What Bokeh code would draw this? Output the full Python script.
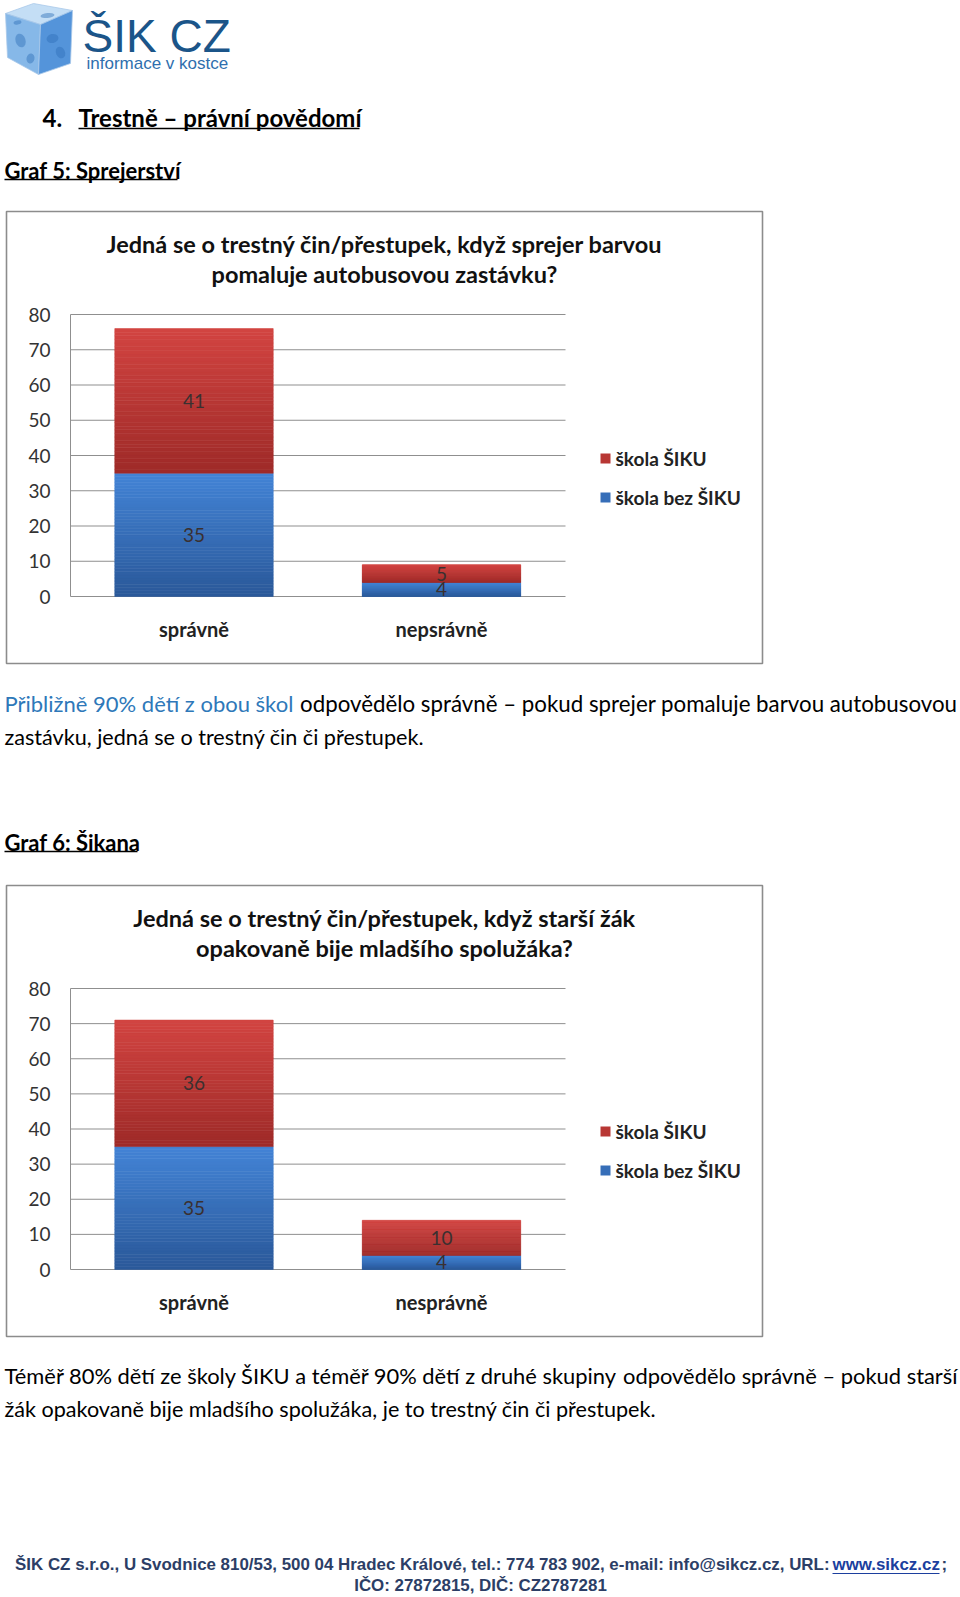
import numpy as np
from bokeh.plotting import figure
from bokeh.models import Range1d
from bokeh.core.properties import value
from bokeh.embed import file_html
from bokeh.resources import INLINE

# ---------------- data ----------------
categories_1 = ["správně", "nepsrávně"]
skola_siku_1 = [41, 5]
skola_bez_siku_1 = [35, 4]
title_1 = ["Jedná se o trestný čin/přestupek, když sprejer barvou",
           "pomaluje autobusovou zastávku?"]

categories_2 = ["správně", "nesprávně"]
skola_siku_2 = [36, 10]
skola_bez_siku_2 = [35, 4]
title_2 = ["Jedná se o trestný čin/přestupek, když starší žák",
           "opakovaně bije mladšího spolužáka?"]

y_ticks = [0, 10, 20, 30, 40, 50, 60, 70, 80]
y_tick_labels = ["0", "10", "20", "30", "40", "50", "60", "70", "80"]
series_names = ["škola ŠIKU", "škola bez ŠIKU"]

# ---------------- page canvas ----------------
W, H = 960, 1597
X0, Y0 = 0, 0
BODY = value("Lato")
ARIAL = value("Liberation Sans")
NARROW = value("Liberation Sans Narrow, Liberation Sans, sans-serif")

p = figure(width=W, height=H, x_range=Range1d(X0, X0 + W), y_range=Range1d(Y0 + H, Y0),
           output_backend="svg", toolbar_location=None, min_border=0,
           x_axis_location=None, y_axis_location=None)
p.grid.visible = False
p.outline_line_color = None
p.background_fill_color = "white"
p.border_fill_color = "white"

# ---------------- logo ----------------
p.patches(xs=[[5, 33, 72, 40], [5, 40, 38, 7], [40, 72, 70, 38]],
          ys=[[13, 3, 10, 24], [13, 24, 74, 57], [24, 10, 63, 74]],
          fill_color=["#c4def5", "#86b8e8", "#5494da"], line_color="#a9c9ea", line_width=0.8)
p.ellipse(x=[20, 30, 52, 60, 47, 17], y=[40, 58, 38, 52, 15, 22], width=[10, 8, 12, 9, 14, 8],
          height=[14, 10, 9, 12, 5, 4], angle=[0.3, -0.2, 0.2, 0.4, 0.1, 0.2],
          fill_color="#2f6fb9", fill_alpha=0.45, line_color=None)
p.text(x=[82], y=[35], text=["ŠIK CZ"], text_font=ARIAL, text_font_size="46px",
       text_color="#1b5589", text_baseline="middle", text_align="left")
p.text(x=[86], y=[63], text=["informace v kostce"], text_font=ARIAL, text_font_size="17px",
       text_color="#2f6fae", text_baseline="middle", text_align="left")

# ---------------- headings ----------------
p.text(x=[42], y=[117], text=["4."], text_font=BODY, text_font_style="bold",
       text_font_size="24px", text_color="black", text_baseline="middle")
p.text(x=[78], y=[117], text=["Trestně – právní povědomí"], text_font=BODY, text_font_style="bold",
       text_font_size="24px", text_color="black", text_baseline="middle")
p.segment(x0=[78], x1=[359], y0=[128], y1=[128], line_color="black", line_width=1.5)

def sub_heading(txt, y, x1):
    p.text(x=[4], y=[y], text=[txt], text_font=BODY, text_font_style="bold",
           text_font_size="22px", text_color="black", text_baseline="middle")
    p.segment(x0=[4], x1=[x1], y0=[y + 9], y1=[y + 9], line_color="black", line_width=1.3)

sub_heading("Graf 5: Sprejerství", 170, 177)
sub_heading("Graf 6: Šikana", 842, 137)

# ---------------- charts ----------------
RED_TOP, RED_BOT = np.array([0xd2, 0x44, 0x41]), np.array([0x9e, 0x2a, 0x28])
BLUE_TOP, BLUE_BOT = np.array([0x43, 0x84, 0xd6]), np.array([0x2a, 0x58, 0x99])

def hexc(c):
    c = np.clip(np.round(c), 0, 255).astype(int)
    return "#%02x%02x%02x" % tuple(c)

def draw_chart(key, frame_top, zero_y, ppu, titles, cats, red, blue):
    kx, ky = key + "x", key + "y"
    c0, cw = 193.5, 247.5
    p.extra_x_ranges[kx] = Range1d((X0 - c0) / cw, (X0 + W - c0) / cw)
    p.extra_y_ranges[ky] = Range1d((zero_y - (Y0 + H)) / ppu, (zero_y - Y0) / ppu)

    # frame
    p.quad(left=[6], right=[762], top=[frame_top], bottom=[zero_y + 67],
           fill_color=None, line_color="#8c8c8c", line_width=1.6)
    # title
    p.text(x=[384, 384], y=[frame_top + 32, frame_top + 62], text=titles, text_font=BODY,
           text_font_style="bold", text_font_size="23.5px", text_color="#111111",
           text_align="center", text_baseline="middle")
    # grid + axis
    p.segment(x0=70, x1=565, y0=y_ticks, y1=y_ticks, y_range_name=ky,
              line_color="#8f8f8f", line_width=1)
    p.segment(x0=[70], x1=[70], y0=[0], y1=[y_ticks[-1]], y_range_name=ky,
              line_color="#8f8f8f", line_width=1)
    p.text(x=50, y=y_ticks, text=y_tick_labels, y_range_name=ky, text_font=BODY,
           text_font_size="19px", text_color="#333333", text_align="right",
           text_baseline="middle")

    xs = np.arange(len(cats))
    blue = np.array(blue, dtype=float)
    red = np.array(red, dtype=float)
    segs = [(np.zeros_like(blue), blue, BLUE_BOT, BLUE_TOP), (blue, blue + red, RED_BOT, RED_TOP)]
    N = 40
    for bot, top, cb, ct in segs:
        for k in range(N):
            b = bot + (top - bot) * k / N
            t = bot + (top - bot) * (k + 1) / N
            col = hexc(cb + (ct - cb) * (k + 0.5) / N)
            p.vbar(x=xs, bottom=b, top=t, width=0.64, fill_color=col, line_color=col,
                   line_width=0.6, x_range_name=kx, y_range_name=ky)
    # data labels
    p.text(x=np.concatenate([xs, xs]), y=np.concatenate([blue / 2, blue + red / 2]),
           text=[str(int(v)) for v in blue] + [str(int(v)) for v in red],
           x_range_name=kx, y_range_name=ky, text_font=BODY, text_font_size="19px",
           text_color="#3a3030", text_align="center", text_baseline="middle")
    # category labels
    p.text(x=xs, y=[zero_y + 32] * len(cats), text=cats, x_range_name=kx, text_font=BODY,
           text_font_style="bold", text_font_size="20px", text_color="#222222",
           text_align="center", text_baseline="middle")
    # legend
    ly = [zero_y - 138, zero_y - 99]
    p.rect(x=[605, 605], y=ly, width=10, height=10,
           fill_color=[hexc((RED_TOP + RED_BOT) / 2), hexc((BLUE_TOP + BLUE_BOT) / 2)],
           line_color=None)
    p.text(x=[615, 615], y=ly, text=series_names, text_font=BODY, text_font_style="bold",
           text_font_size="19px", text_color="#222222", text_align="left",
           text_baseline="middle")

draw_chart("c1", 211, 596, 282 / 80, title_1, categories_1, skola_siku_1, skola_bez_siku_1)
draw_chart("c2", 885, 1269, 281 / 80, title_2, categories_2, skola_siku_2, skola_bez_siku_2)

# ---------------- paragraphs ----------------
def chunk(x, y, txt, color="black", align="left", size="21.6px"):
    p.text(x=[x], y=[y], text=[txt], text_font=BODY, text_font_size=size,
           text_color=color, text_align=align, text_baseline="middle")

BLUE_TXT = "#2e78b9"
# first paragraph: justified first line (left part flush left, right part flush right)
chunk(4, 703, "Přibližně 90% dětí z obou škol", BLUE_TXT, size="22px")
chunk(957, 703, "odpovědělo správně – pokud sprejer pomaluje barvou autobusovou",
      align="right", size="22.3px")
chunk(4, 736, "zastávku, jedná se o trestný čin či přestupek.")

# second paragraph
chunk(4, 1375, "Téměř 80% dětí ze školy ŠIKU a téměř 90% dětí z druhé skupiny", size="21.9px")
chunk(957, 1375, "odpovědělo správně – pokud starší", align="right", size="21.9px")
chunk(4, 1408, "žák opakovaně bije mladšího spolužáka, je to trestný čin či přestupek.")

# ---------------- footer ----------------
FOOT = "#2c3e66"
FS = "16.9px"
p.text(x=[829], y=[1564], text=["ŠIK CZ s.r.o., U Svodnice 810/53, 500 04 Hradec Králové, tel.: 774 783 902, e-mail: info@sikcz.cz, URL:"],
       text_font=NARROW, text_font_style="bold", text_font_size=FS, text_color=FOOT,
       text_align="right", text_baseline="middle")
p.text(x=[832], y=[1564], text=["www.sikcz.cz"], text_font=NARROW, text_font_style="bold",
       text_font_size=FS, text_color="#1c3f9e", text_align="left", text_baseline="middle")
p.segment(x0=[832], x1=[939], y0=[1573], y1=[1573], line_color="#1c3f9e", line_width=1)
p.text(x=[941], y=[1564], text=[";"], text_font=NARROW, text_font_style="bold",
       text_font_size=FS, text_color=FOOT, text_align="left", text_baseline="middle")
p.text(x=[480], y=[1585], text=["IČO: 27872815, DIČ: CZ2787281"], text_font=NARROW,
       text_font_style="bold", text_font_size=FS, text_color=FOOT, text_align="center",
       text_baseline="middle")

open("out.html", "w").write(file_html(p, INLINE))
